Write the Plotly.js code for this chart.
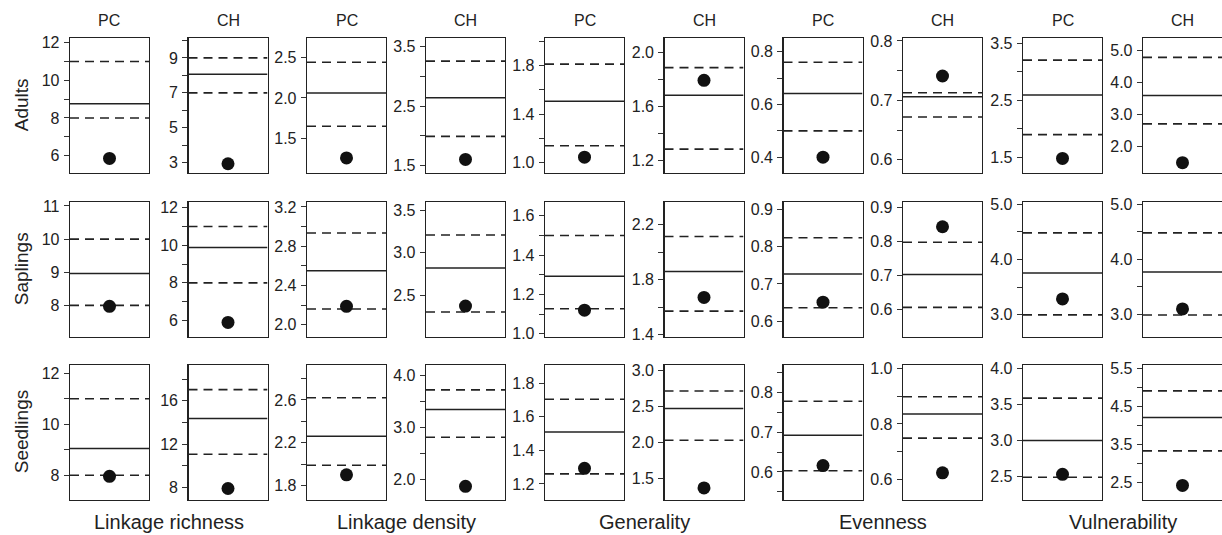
<!DOCTYPE html>
<html>
<head>
<meta charset="utf-8">
<script src="https://cdn.plot.ly/plotly-3.0.1.min.js"></script>
<style>html,body{margin:0;padding:0;background:#fff;}#chart{width:1222px;height:535px;}</style>
</head>
<body>
<div id="chart"></div>
<script>
// ---- categories ----
const metrics = ["Linkage richness", "Linkage density", "Generality", "Evenness", "Vulnerability"];
const sites = ["PC", "CH"];
const stages = ["Adults", "Saplings", "Seedlings"];

// ---- values: one row per stage, panels ordered metric x site (PC, CH) ----
const nullMean = [
  [8.75, 8.06, 2.06, 2.64, 1.505, 1.685, 0.642, 0.706, 2.594, 3.59],
  [8.96, 9.88, 2.55, 2.82, 1.293, 1.86, 0.727, 0.702, 3.754, 3.77],
  [9.05, 14.37, 2.26, 3.35, 1.509, 2.47, 0.692, 0.836, 3.0, 4.21]
];
const nullUpper = [
  [11.0, 9.0, 2.44, 3.26, 1.81, 1.89, 0.76, 0.7127, 3.205, 4.79],
  [10.0, 11.0, 2.935, 3.21, 1.50, 2.115, 0.824, 0.797, 4.48, 4.48],
  [11.0, 17.04, 2.62, 3.73, 1.705, 2.71, 0.777, 0.898, 3.59, 4.91]
];
const nullLower = [
  [8.0, 7.0, 1.65, 1.99, 1.14, 1.284, 0.50, 0.672, 1.895, 2.70],
  [8.0, 8.0, 2.16, 2.30, 1.127, 1.57, 0.636, 0.605, 3.0, 2.99],
  [8.0, 11.05, 1.99, 2.815, 1.26, 2.03, 0.603, 0.749, 2.49, 3.33]
];
const observed = [
  [5.85, 2.94, 1.26, 1.60, 1.046, 1.795, 0.40, 0.741, 1.477, 1.48],
  [7.97, 5.9, 2.187, 2.37, 1.12, 1.67, 0.651, 0.843, 3.287, 3.1],
  [7.96, 7.88, 1.9, 1.87, 1.293, 1.37, 0.616, 0.624, 2.53, 2.42]
];

// ---- axis ranges and tick labels ----
const yRanges = [
  [[5.1,12.25],[2.44,10.14],[1.08,2.74],[1.38,3.65],[0.92,2.025],[1.11,2.11],[0.342,0.852],[0.5785,0.805],[1.23,3.594],[1.17,5.4]],
  [[7.06,11.12],[5.15,12.3],[1.88,3.25],[2.01,3.6],[0.986,1.67],[1.385,2.367],[0.559,0.92],[0.519,0.916],[2.61,5.036],[2.6,5.04]],
  [[7.05,12.32],[6.86,19.32],[1.67,2.926],[1.615,4.21],[1.107,1.909],[1.21,3.07],[0.531,0.868],[0.528,1.012],[2.18,4.05],[2.05,5.59]]
];
const tickLabels = [
  [[6,8,10,12],[3,5,7,9],[1.5,2.0,2.5],[1.5,2.5,3.5],[1.0,1.4,1.8],[1.2,1.6,2.0],[0.4,0.6,0.8],[0.6,0.7,0.8],[1.5,2.5,3.5],[2.0,3.0,4.0,5.0]],
  [[8,9,10,11],[6,8,10,12],[2.0,2.4,2.8,3.2],[2.5,3.0,3.5],[1.0,1.2,1.4,1.6],[1.4,1.8,2.2],[0.6,0.7,0.8,0.9],[0.6,0.7,0.8,0.9],[3.0,4.0,5.0],[3.0,4.0,5.0]],
  [[8,10,12],[8,12,16],[1.8,2.2,2.6],[2.0,3.0,4.0],[1.2,1.4,1.6,1.8],[1.5,2.0,2.5,3.0],[0.6,0.7,0.8],[0.6,0.8,1.0],[2.5,3.0,3.5,4.0],[2.5,3.5,4.5,5.5]]
];
const minorTicks = [
  [[7,9,11],[4,6,8,10],[],[2.0,3.0],[1.2,1.6,2.0],[1.4,1.8],[0.5,0.7],[0.65,0.75],[2.0,3.0],[]],
  [[],[7,9,11],[2.2,2.6,3.0],[],[1.1,1.3,1.5],[1.6,2.0],[],[],[3.5,4.5],[3.5,4.5]],
  [[9,11],[10,14,18],[2.0,2.4,2.8],[2.5,3.5],[],[],[0.55,0.65,0.75,0.85],[0.7,0.9],[],[3.0,4.0,5.0]]
];

// ---- layout geometry (pixels) ----
const W = 1222, H = 535;
const colLeft = [70, 188.5, 307, 426, 545, 664.5, 783.5, 903, 1023, 1143];
const panelW = 79;
const rowTop = [38, 202, 365];
const rowH = 134.5;
const FONT = "Liberation Sans, Arial, Helvetica, sans-serif";
const INK = "#222";

const data = [];
const layout = {
  width: W, height: H,
  margin: {l: 0, r: 0, t: 0, b: 0},
  showlegend: false,
  paper_bgcolor: "#fff", plot_bgcolor: "#fff",
  font: {family: FONT, color: INK},
  annotations: []
};

function fmt(v, c) {
  return (c < 2) ? String(Math.round(v)) : v.toFixed(1);
}

for (let r = 0; r < 3; r++) {
  for (let c = 0; c < 10; c++) {
    const idx = r * 10 + c + 1;
    const sfx = idx > 1 ? String(idx) : "";
    const xa = "x" + sfx, ya = "y" + sfx;
    const labs = tickLabels[r][c], mins = minorTicks[r][c];
    layout["xaxis" + sfx] = {
      domain: [colLeft[c] / W, (colLeft[c] + panelW) / W],
      range: [0, 1], anchor: ya,
      showline: true, mirror: true, linecolor: INK, linewidth: 1.3,
      showticklabels: false, ticks: "", showgrid: false, zeroline: false, fixedrange: true
    };
    layout["yaxis" + sfx] = {
      domain: [1 - (rowTop[r] + rowH) / H, 1 - rowTop[r] / H],
      range: yRanges[r][c], anchor: xa,
      showline: true, mirror: true, linecolor: INK, linewidth: 1.3,
      tickmode: "array",
      tickvals: labs.concat(mins),
      ticktext: labs.map(v => fmt(v, c)).concat(mins.map(() => "")),
      ticks: "outside", ticklen: 5, tickwidth: 1, tickcolor: "#333",
      ticklabelstandoff: 1,
      tickfont: {family: FONT, size: 16, color: INK},
      showgrid: false, zeroline: false, fixedrange: true
    };
    data.push({
      x: [0, 1, null, 0, 1],
      y: [nullUpper[r][c], nullUpper[r][c], null, nullLower[r][c], nullLower[r][c]],
      mode: "lines", xaxis: xa, yaxis: ya, hoverinfo: "skip",
      line: {color: INK, width: 1.6, dash: "9px,6px"}
    });
    data.push({
      x: [0, 1], y: [nullMean[r][c], nullMean[r][c]],
      mode: "lines", xaxis: xa, yaxis: ya, hoverinfo: "skip",
      line: {color: INK, width: 1.5}
    });
    data.push({
      x: [0.5], y: [observed[r][c]],
      mode: "markers", xaxis: xa, yaxis: ya, hoverinfo: "skip",
      marker: {color: "#111", size: 13}, cliponaxis: false
    });
  }
}

// column titles
for (let c = 0; c < 10; c++) {
  layout.annotations.push({
    text: sites[c % 2], xref: "paper", yref: "paper",
    x: (colLeft[c] + panelW / 2) / W, y: 1 - 20 / H,
    xanchor: "center", yanchor: "middle", showarrow: false,
    font: {family: FONT, size: 16, color: INK}
  });
}
// metric labels
for (let m = 0; m < 5; m++) {
  const cx = (colLeft[2 * m] + colLeft[2 * m + 1] + panelW) / 2;
  layout.annotations.push({
    text: metrics[m], xref: "paper", yref: "paper",
    x: cx / W, y: 1 - 522 / H,
    xanchor: "center", yanchor: "middle", showarrow: false,
    font: {family: FONT, size: 20, color: INK}
  });
}
// stage labels
for (let r = 0; r < 3; r++) {
  layout.annotations.push({
    text: stages[r], xref: "paper", yref: "paper",
    x: 21 / W, y: 1 - (rowTop[r] + rowH / 2) / H,
    xanchor: "center", yanchor: "middle", showarrow: false, textangle: -90,
    font: {family: FONT, size: 19, color: INK}
  });
}

Plotly.newPlot("chart", data, layout, {displayModeBar: false, staticPlot: true});
</script>
</body>
</html>
